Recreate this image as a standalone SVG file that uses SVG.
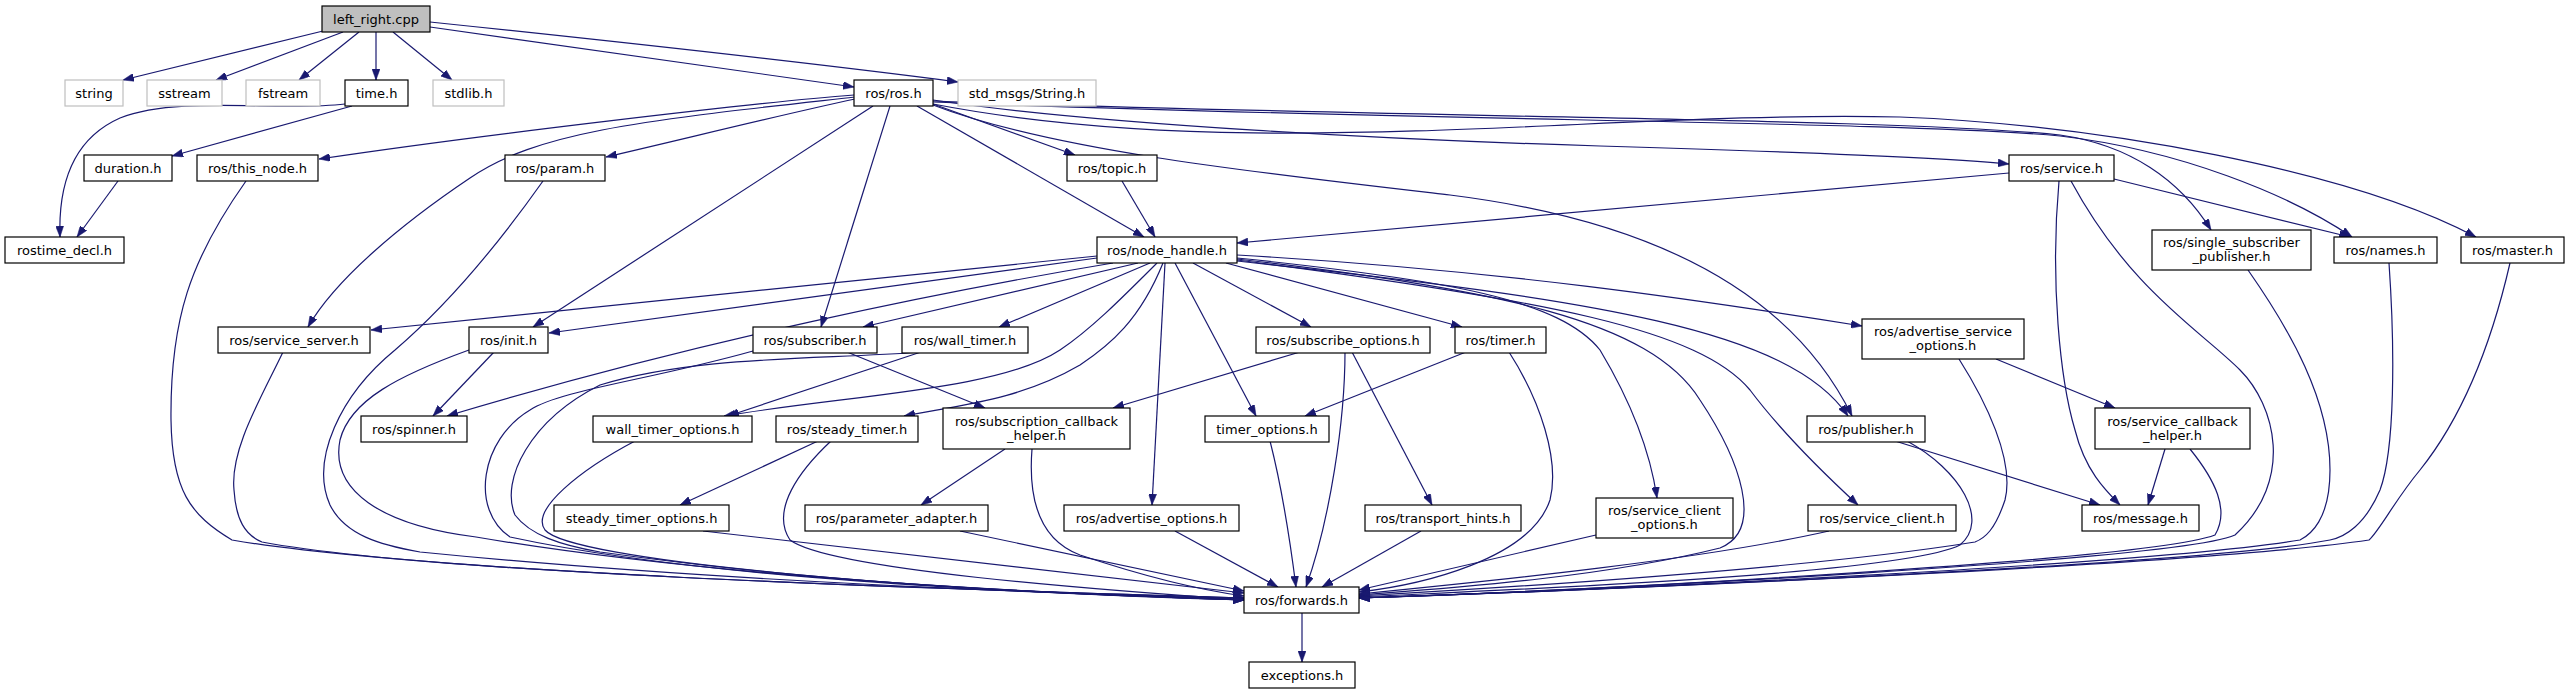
<svg xmlns="http://www.w3.org/2000/svg" width="2569" height="693" viewBox="0 0 2569 693">
<style>
.n rect{fill:#ffffff;stroke:#000000;stroke-width:1.2}
.g rect{fill:#ffffff;stroke:#bfbfbf;stroke-width:1.2}
.r rect{fill:#bfbfbf;stroke:#000000;stroke-width:1.2}
text{font-family:"DejaVu Sans","Liberation Sans",sans-serif;font-size:13px;fill:#000000;text-anchor:middle}
#edges path{fill:none;stroke:#191970;stroke-width:1.2;marker-end:url(#ah)}
</style>
<defs>
<marker id="ah" markerUnits="userSpaceOnUse" markerWidth="11" markerHeight="8" viewBox="0 0 11 8" refX="11" refY="4" orient="auto">
<path d="M0,0 L11,4 L0,8 z" fill="#191970" stroke="#191970" stroke-width="0.5"/>
</marker>
</defs>
<rect width="2569" height="693" fill="#ffffff"/>
<g id="edges">
<path d="M323,31 L123,80"/>
<path d="M343,32 L216,80"/>
<path d="M359,32 L299,80"/>
<path d="M376,32 L376,80"/>
<path d="M393,32 L452,80"/>
<path d="M430,27 C600,50 750,72 854,87"/>
<path d="M430,22 C650,45 850,68 958,82"/>
<path d="M352,106 L172,156"/>
<path d="M345,104 C280,112 180,95 120,118 C75,138 58,180 60,237"/>
<path d="M118,181 L77,237"/>
<path d="M854,95 C760,102 480,135 319,159"/>
<path d="M855,99 C780,115 680,140 606,157"/>
<path d="M855,97 C650,120 540,130 470,178 C400,225 335,280 308,327"/>
<path d="M873,106 L533,327"/>
<path d="M890,106 L821,327"/>
<path d="M917,106 L1144,237"/>
<path d="M933,104 L1075,155"/>
<path d="M933,105 C1050,150 1250,172 1450,195 C1650,220 1790,290 1852,416"/>
<path d="M933,100 C1100,125 1400,140 1600,146 C1800,152 1950,158 2009,164"/>
<path d="M933,101 C1400,118 1900,118 2060,135 C2130,145 2180,180 2211,230"/>
<path d="M933,102 C1400,121 1900,121 2060,136 C2180,150 2290,195 2352,237"/>
<path d="M933,104 C1250,165 1600,110 1900,117 C2100,125 2350,170 2476,237"/>
<path d="M246,181 C190,260 170,320 171,420 C172,490 190,515 232,540 C420,572 900,588 1244,598"/>
<path d="M543,181 C480,270 430,320 395,350 C340,395 310,460 330,505 C345,535 380,545 420,552 C700,580 1000,592 1244,599"/>
<path d="M1122,181 L1155,237"/>
<path d="M2009,173 L1237,243"/>
<path d="M2114,179 L2350,237"/>
<path d="M2059,181 C2050,280 2060,380 2075,430 C2085,470 2105,490 2120,505"/>
<path d="M2071,181 C2130,290 2200,330 2240,370 C2275,405 2295,480 2235,535 C2180,560 1600,590 1359,598"/>
<path d="M2248,270 C2290,330 2330,400 2330,470 C2330,520 2310,535 2300,540 C2150,565 1600,590 1359,598"/>
<path d="M2389,263 C2395,350 2395,450 2380,490 C2365,525 2345,537 2330,540 C2200,565 1600,590 1359,598"/>
<path d="M2510,263 C2490,350 2460,420 2420,470 C2395,500 2380,530 2369,540 C2200,565 1600,590 1359,598"/>
<path d="M1097,256 L371,330"/>
<path d="M1097,258 L549,333"/>
<path d="M1113,263 C950,290 700,340 447,416"/>
<path d="M1138,263 L863,327"/>
<path d="M1150,263 L999,327"/>
<path d="M1157,263 C1120,300 1090,330 1060,350 C1000,390 850,395 724,416"/>
<path d="M1163,263 C1140,320 1110,345 1080,365 C1020,400 960,405 904,416"/>
<path d="M1165,263 L1152,505"/>
<path d="M1175,263 L1256,416"/>
<path d="M1193,263 L1311,327"/>
<path d="M1226,263 L1462,327"/>
<path d="M1237,255 C1500,270 1700,300 1862,326"/>
<path d="M1237,258 C1450,280 1560,300 1600,350 C1630,400 1650,450 1657,498"/>
<path d="M1237,259 C1500,290 1650,320 1700,400 C1740,460 1765,530 1720,548 C1600,578 1450,588 1359,595"/>
<path d="M1237,260 C1550,300 1700,330 1750,390 C1780,430 1820,470 1858,505"/>
<path d="M1237,261 C1600,300 1790,330 1848,416"/>
<path d="M283,352 C260,400 230,450 234,490 C236,520 245,535 262,542 C420,572 900,588 1244,598"/>
<path d="M494,352 L433,416"/>
<path d="M469,350 C400,375 350,400 340,440 C330,490 380,525 476,537 C700,575 1000,592 1244,600"/>
<path d="M847,352 L985,408"/>
<path d="M753,351 C650,380 560,390 530,410 C480,440 470,510 510,537 C700,578 1000,592 1244,600"/>
<path d="M921,352 L728,416"/>
<path d="M921,352 C820,360 700,355 600,385 C530,420 500,480 515,515 C530,535 560,545 600,552 C800,580 1000,592 1244,600"/>
<path d="M1300,352 L1113,408"/>
<path d="M1352,352 L1432,505"/>
<path d="M1345,352 C1345,420 1330,520 1306,587"/>
<path d="M1466,352 L1305,416"/>
<path d="M1509,352 C1540,400 1560,460 1550,500 C1530,560 1420,585 1359,592"/>
<path d="M1996,359 L2115,408"/>
<path d="M1959,359 C1985,400 2015,460 2005,500 C1995,530 1985,538 1975,542 C1800,570 1500,588 1359,596"/>
<path d="M635,441 C580,470 530,510 545,530 C570,560 900,590 1244,600"/>
<path d="M818,441 L680,505"/>
<path d="M831,441 C800,470 770,510 790,540 C830,570 1100,590 1244,600"/>
<path d="M1005,449 L921,505"/>
<path d="M1032,449 C1028,500 1040,540 1080,555 C1140,575 1200,590 1244,596"/>
<path d="M1270,441 C1280,480 1290,540 1296,587"/>
<path d="M1895,441 L2100,505"/>
<path d="M1907,441 C1960,470 1990,520 1960,545 C1900,575 1500,590 1359,597"/>
<path d="M2165,449 L2148,505"/>
<path d="M2190,449 C2215,480 2230,510 2215,535 C2150,560 1600,590 1359,598"/>
<path d="M703,531 L1244,593"/>
<path d="M960,531 L1244,591"/>
<path d="M1175,531 L1278,587"/>
<path d="M1421,531 L1322,587"/>
<path d="M1596,535 L1359,590"/>
<path d="M1829,531 C1700,560 1500,580 1359,594"/>
<path d="M1302,613 L1302,662"/>
</g>
<g id="n_left_right" class="r"><rect x="322" y="6" width="108" height="26"/><text x="376" y="23.5">left_right.cpp</text></g>
<g id="n_string" class="g"><rect x="65" y="80" width="58" height="26"/><text x="94" y="97.5">string</text></g>
<g id="n_sstream" class="g"><rect x="147" y="80" width="75" height="26"/><text x="184.5" y="97.5">sstream</text></g>
<g id="n_fstream" class="g"><rect x="246" y="80" width="74" height="26"/><text x="283" y="97.5">fstream</text></g>
<g id="n_time" class="n"><rect x="345" y="80" width="63" height="26"/><text x="376.5" y="97.5">time.h</text></g>
<g id="n_stdlib" class="g"><rect x="433" y="80" width="71" height="26"/><text x="468.5" y="97.5">stdlib.h</text></g>
<g id="n_ros" class="n"><rect x="854" y="80" width="79" height="26"/><text x="893.5" y="97.5">ros/ros.h</text></g>
<g id="n_std_msgs" class="g"><rect x="958" y="80" width="138" height="26"/><text x="1027" y="97.5">std_msgs/String.h</text></g>
<g id="n_duration" class="n"><rect x="84" y="155" width="88" height="26"/><text x="128" y="172.5">duration.h</text></g>
<g id="n_this_node" class="n"><rect x="197" y="155" width="121" height="26"/><text x="257.5" y="172.5">ros/this_node.h</text></g>
<g id="n_param" class="n"><rect x="505" y="155" width="100" height="26"/><text x="555" y="172.5">ros/param.h</text></g>
<g id="n_topic" class="n"><rect x="1067" y="155" width="90" height="26"/><text x="1112" y="172.5">ros/topic.h</text></g>
<g id="n_service" class="n"><rect x="2009" y="155" width="105" height="26"/><text x="2061.5" y="172.5">ros/service.h</text></g>
<g id="n_rostime_decl" class="n"><rect x="5" y="237" width="119" height="26"/><text x="64.5" y="254.5">rostime_decl.h</text></g>
<g id="n_node_handle" class="n"><rect x="1097" y="237" width="140" height="26"/><text x="1167" y="254.5">ros/node_handle.h</text></g>
<g id="n_ssp" class="n"><rect x="2152" y="230" width="159" height="40"/><text x="2231.5" y="247">ros/single_subscriber</text><text x="2231.5" y="261">_publisher.h</text></g>
<g id="n_names" class="n"><rect x="2334" y="237" width="103" height="26"/><text x="2385.5" y="254.5">ros/names.h</text></g>
<g id="n_master" class="n"><rect x="2461" y="237" width="103" height="26"/><text x="2512.5" y="254.5">ros/master.h</text></g>
<g id="n_service_server" class="n"><rect x="218" y="327" width="152" height="26"/><text x="294" y="344.5">ros/service_server.h</text></g>
<g id="n_init" class="n"><rect x="469" y="327" width="79" height="26"/><text x="508.5" y="344.5">ros/init.h</text></g>
<g id="n_subscriber" class="n"><rect x="753" y="327" width="124" height="26"/><text x="815" y="344.5">ros/subscriber.h</text></g>
<g id="n_wall_timer" class="n"><rect x="902" y="327" width="126" height="26"/><text x="965" y="344.5">ros/wall_timer.h</text></g>
<g id="n_subscribe_options" class="n"><rect x="1256" y="327" width="174" height="26"/><text x="1343" y="344.5">ros/subscribe_options.h</text></g>
<g id="n_timer" class="n"><rect x="1455" y="327" width="91" height="26"/><text x="1500.5" y="344.5">ros/timer.h</text></g>
<g id="n_adv_svc_opts" class="n"><rect x="1862" y="319" width="162" height="40"/><text x="1943" y="336">ros/advertise_service</text><text x="1943" y="350">_options.h</text></g>
<g id="n_spinner" class="n"><rect x="361" y="416" width="106" height="26"/><text x="414" y="433.5">ros/spinner.h</text></g>
<g id="n_wall_timer_options" class="n"><rect x="593" y="416" width="159" height="26"/><text x="672.5" y="433.5">wall_timer_options.h</text></g>
<g id="n_steady_timer" class="n"><rect x="776" y="416" width="142" height="26"/><text x="847" y="433.5">ros/steady_timer.h</text></g>
<g id="n_sub_cb_helper" class="n"><rect x="943" y="408" width="187" height="41"/><text x="1036.5" y="425.5">ros/subscription_callback</text><text x="1036.5" y="439.5">_helper.h</text></g>
<g id="n_timer_options" class="n"><rect x="1205" y="416" width="124" height="26"/><text x="1267" y="433.5">timer_options.h</text></g>
<g id="n_publisher" class="n"><rect x="1807" y="416" width="118" height="26"/><text x="1866" y="433.5">ros/publisher.h</text></g>
<g id="n_svc_cb_helper" class="n"><rect x="2095" y="408" width="155" height="41"/><text x="2172.5" y="425.5">ros/service_callback</text><text x="2172.5" y="439.5">_helper.h</text></g>
<g id="n_steady_timer_options" class="n"><rect x="554" y="505" width="175" height="26"/><text x="641.5" y="522.5">steady_timer_options.h</text></g>
<g id="n_parameter_adapter" class="n"><rect x="805" y="505" width="183" height="26"/><text x="896.5" y="522.5">ros/parameter_adapter.h</text></g>
<g id="n_advertise_options" class="n"><rect x="1064" y="505" width="175" height="26"/><text x="1151.5" y="522.5">ros/advertise_options.h</text></g>
<g id="n_transport_hints" class="n"><rect x="1365" y="505" width="156" height="26"/><text x="1443" y="522.5">ros/transport_hints.h</text></g>
<g id="n_svc_client_options" class="n"><rect x="1596" y="498" width="137" height="40"/><text x="1664.5" y="515">ros/service_client</text><text x="1664.5" y="529">_options.h</text></g>
<g id="n_service_client" class="n"><rect x="1808" y="505" width="148" height="26"/><text x="1882" y="522.5">ros/service_client.h</text></g>
<g id="n_message" class="n"><rect x="2082" y="505" width="117" height="26"/><text x="2140.5" y="522.5">ros/message.h</text></g>
<g id="n_forwards" class="n"><rect x="1244" y="587" width="115" height="26"/><text x="1301.5" y="604.5">ros/forwards.h</text></g>
<g id="n_exceptions" class="n"><rect x="1249" y="662" width="106" height="26"/><text x="1302" y="679.5">exceptions.h</text></g>
</svg>
